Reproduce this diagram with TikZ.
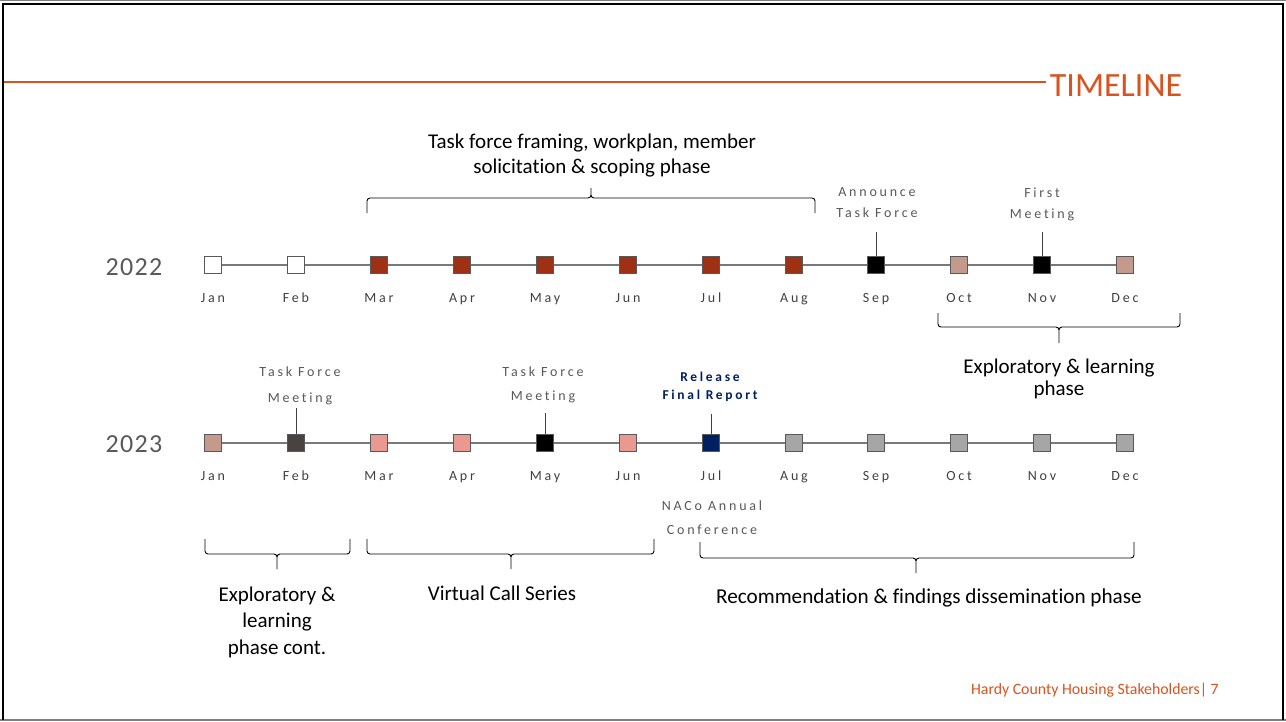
\documentclass[tikz,border=0pt]{standalone}
\usepackage{fontspec}
\setmainfont{Carlito}[Ligatures=NoCommon]
\newfontfamily\spaced[LetterSpace=20, Ligatures=NoCommon]{Carlito}
\newfontfamily\yearfont[LetterSpace=5]{Carlito}
\usepackage{xcolor}
\usepackage{tikz}
\usetikzlibrary{backgrounds}

\definecolor{rust}{HTML}{9E3013}
\definecolor{dusty}{HTML}{C49A8C}
\definecolor{salmon}{HTML}{E9998F}
\definecolor{slate}{HTML}{4A4242}
\definecolor{navy}{HTML}{002060}
\definecolor{ash}{HTML}{A6A6A6}
\definecolor{accent}{HTML}{D9531E}
\definecolor{rim}{HTML}{595959}
\definecolor{ink}{HTML}{404040}

\tikzset{
  month/.style={draw=rim, line width=1.3pt, minimum size=17.5pt, inner sep=0pt},
  mlab/.style={label={[anchor=base, yshift=-27.7pt, text=ink, font=\spaced\fontsize{14}{17}\selectfont]below:#1}},
  axis/.style={draw=gray!95!black, line width=1.5pt},
  tick/.style={draw=ink, line width=1pt},
  note/.style={text=rim, align=center},
  phase/.style={align=center},
  year/.style={anchor=base, text=rim, font=\yearfont\fontsize{26}{30}\selectfont},
  brace line/.style={line width=0.9pt, rounded corners=3pt}
}

\begin{document}
\begin{tikzpicture}[x=1pt, y=-1pt]
        \useasboundingbox (0,0) rectangle (1286,721);

        % title bar
        \node[anchor=base, text=accent, font=\fontsize{34}{40}\selectfont] (title) at (1116,96) {TIMELINE};
        \coordinate (rule) at (3,82);
        \draw[accent, line width=2.5pt] (rule) -- (rule -| title.west);

        % 2022
        \node[year] (y22) at (134,275) {2022};
        \node[month, fill=white, mlab=Jan] (a1) at (213,265) {};
        \node[month, fill=white, mlab=Feb] (a2) at (296,265) {};
        \node[month, fill=rust, mlab=Mar] (a3) at (379,265) {};
        \node[month, fill=rust, mlab=Apr] (a4) at (462,265) {};
        \node[month, fill=rust, mlab=May] (a5) at (545,265) {};
        \node[month, fill=rust, mlab=Jun] (a6) at (628,265) {};
        \node[month, fill=rust, mlab=Jul] (a7) at (711,265) {};
        \node[month, fill=rust, mlab=Aug] (a8) at (794,265) {};
        \node[month, fill=black, mlab=Sep] (a9) at (876,265) {};
        \node[month, fill=dusty, mlab=Oct] (a10) at (959,265) {};
        \node[month, fill=black, mlab=Nov] (a11) at (1042,265) {};
        \node[month, fill=dusty, mlab=Dec] (a12) at (1125,265) {};

        % 2023
        \node[year] (y23) at (134,452) {2023};
        \node[month, fill=dusty, mlab=Jan] (b1) at (213,443) {};
        \node[month, fill=slate, mlab=Feb] (b2) at (296,443) {};
        \node[month, fill=salmon, mlab=Mar] (b3) at (379,443) {};
        \node[month, fill=salmon, mlab=Apr] (b4) at (462,443) {};
        \node[month, fill=black, mlab=May] (b5) at (545,443) {};
        \node[month, fill=salmon, mlab=Jun] (b6) at (628,443) {};
        \node[month, fill=navy, mlab=Jul] (b7) at (711,443) {};
        \node[month, fill=ash, mlab=Aug] (b8) at (794,443) {};
        \node[month, fill=ash, mlab=Sep] (b9) at (876,443) {};
        \node[month, fill=ash, mlab=Oct] (b10) at (959,443) {};
        \node[month, fill=ash, mlab=Nov] (b11) at (1042,443) {};
        \node[month, fill=ash, mlab=Dec] (b12) at (1125,443) {};

        \begin{scope}[on background layer]
            \fill[white] (0,0) rectangle (1286,721);
            \draw[axis] (a1) -- (a12);
            \draw[axis] (b1) -- (b12);
        \end{scope}

        % events
        \node[note, font=\spaced\fontsize{14}{21}\selectfont] (announce) at (877,203) {Announce\\Task Force};
        \coordinate (t9) at (876,232);
        \draw[tick] (a9) -- (t9);
        \node[note, font=\spaced\fontsize{14}{21}\selectfont] (first) at (1042,204) {First\\Meeting};
        \coordinate (t11) at (1042,232);
        \draw[tick] (a11) -- (t11);
        \node[note, font=\spaced\fontsize{14}{26}\selectfont] (meetfeb) at (300,385.5) {Task Force\\Meeting};
        \coordinate (u2) at (296,408);
        \draw[tick] (b2) -- (u2);
        \node[note, font=\spaced\fontsize{14}{24}\selectfont] (meetmay) at (543,384.5) {Task Force\\Meeting};
        \coordinate (u5) at (545,413);
        \draw[tick] (b5) -- (u5);
        \node[note, text=navy, font=\spaced\bfseries\fontsize{13.5}{18}\selectfont] (release) at (710,387) {Release\\Final Report};
        \coordinate (u7) at (711,414);
        \draw[tick] (b7) -- (u7);
        \node[note, font=\spaced\fontsize{14}{24}\selectfont] (naco) at (712,518) {NACo Annual\\Conference};

        % phases
        \draw[brace line] (367,213) -- (367,198) -- (591,198) -- (591,188) (815,213) -- (815,198) -- (591,198) -- (591,188);
        \node[phase, font=\fontsize{21}{25}\selectfont] (framing) at (592,156) {Task force framing, workplan, member\\solicitation \& scoping phase};
        \draw[brace line] (938,313) -- (938,327) -- (1059,327) -- (1059,343) (1180,313) -- (1180,327) -- (1059,327) -- (1059,343);
        \node[phase, font=\fontsize{21}{22}\selectfont] (explore) at (1059,379) {Exploratory \& learning\\phase};
        \draw[brace line] (205,539) -- (205,554) -- (277,554) -- (277,569) (350,539) -- (350,554) -- (277,554) -- (277,569);
        \node[phase, font=\fontsize{21}{26.5}\selectfont] (explore2) at (277,622) {Exploratory \&\\learning\\phase cont.};
        \draw[brace line] (367,539) -- (367,554) -- (511,554) -- (511,569) (654,539) -- (654,554) -- (511,554) -- (511,569);
        \node[phase, anchor=base, font=\fontsize{21}{25}\selectfont] (calls) at (502,600) {Virtual Call Series};
        \draw[brace line] (700,542) -- (700,558) -- (916,558) -- (916,573) (1134,542) -- (1134,558) -- (916,558) -- (916,573);
        \node[phase, anchor=base, font=\fontsize{21.2}{25}\selectfont] (dissem) at (929,603) {Recommendation \& findings dissemination phase};

        % footer and frame
        \node[anchor=base east, inner sep=0pt, text=accent, font=\fontsize{15.8}{18}\selectfont] (foot) at (1219,694) {Hardy County Housing Stakeholders| 7};
        \draw[gray, line width=1pt] (0,0.5) -- (1286,0.5);
        \draw[gray, line width=1.5pt] (0,720) -- (1286,720);
        \draw[black, line width=2.5pt] (3,720) -- (3,4) -- (1283,4) -- (1283,720);
    \end{tikzpicture}
\end{document}
